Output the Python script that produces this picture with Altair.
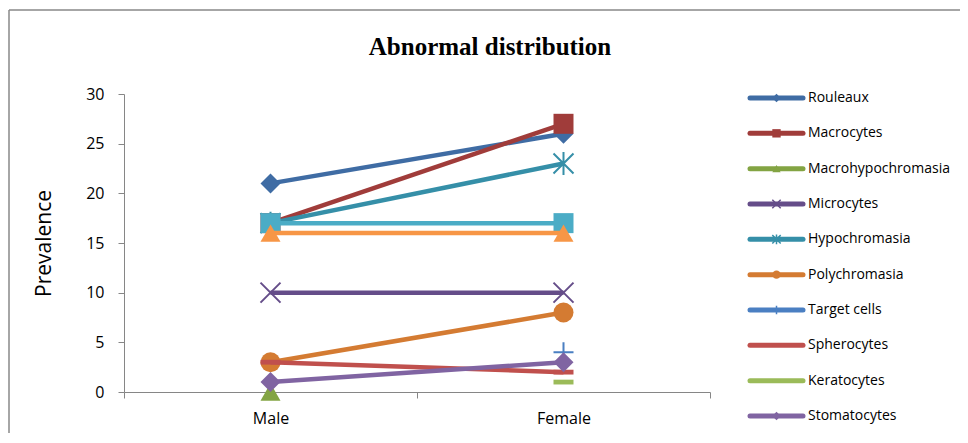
import altair as alt
import pandas as pd

# ---------------- data ----------------
categories = ["Male", "Female"]
series_names = ["Rouleaux", "Macrocytes", "Macrohypochromasia", "Microcytes",
                "Hypochromasia", "Polychromasia", "Target cells", "Spherocytes",
                "Keratocytes", "Stomatocytes", "Series 11", "Series 12"]
rouleaux = [21, 26]
macrocytes = [17, 27]
macrohypochromasia = [0, None]
microcytes = [10, 10]
hypochromasia = [17, 23]
polychromasia = [3, 8]
target_cells = [None, 4]
spherocytes = [3, 2]
keratocytes = [None, 1]
stomatocytes = [1, 3]
series_11 = [17, 17]
series_12 = [16, 16]
legend_names = series_names[:10]
y_ticks = [0, 5, 10, 15, 20, 25, 30]
title_text = "Abnormal distribution"
y_title = "Prevalence"

all_values = [rouleaux, macrocytes, macrohypochromasia, microcytes, hypochromasia,
              polychromasia, target_cells, spherocytes, keratocytes, stomatocytes,
              series_11, series_12]

# ---------------- styles ----------------
colors = ["#3F6CA4", "#A03C3A", "#83A443", "#654D89", "#358FA8", "#D47B32",
          "#4A7FC2", "#C0504D", "#9BBB59", "#8064A2", "#4BACC6", "#F79646"]
X_PATH = "M-1,-1L1,1M-1,1L1,-1"
AST_PATH = "M-1,-1L1,1M-1,1L1,-1M0,-1.15L0,1.15"
PLUS_PATH = "M-1,0L1,0M0,-1L0,1"
DASH_PATH = "M-1,-0.24L1,-0.24L1,0.24L-1,0.24Z"
shapes = ["diamond", "square", "triangle-up", X_PATH, AST_PATH, "circle",
          PLUS_PATH, DASH_PATH, DASH_PATH, "diamond", "square", "triangle-up"]
filled = [True, True, True, False, False, True, False, True, True, True, True, True]

rows = []
for i, (name, vals) in enumerate(zip(series_names, all_values)):
    for j, (cat, v) in enumerate(zip(categories, vals)):
        if v is not None:
            rows.append({"series": name, "category": cat, "pos": j + 0.5, "value": v})
df = pd.DataFrame(rows)

x_scale = alt.Scale(domain=[0, len(categories)], nice=False, zero=False)
y_scale = alt.Scale(domain=[0, 30], nice=False)

label_expr = " : ".join(
    [f"datum.value == {j + 0.5} ? '{c}'" for j, c in enumerate(categories)]) + " : ''"
x_axis = alt.Axis(
    values=[k * 0.5 for k in range(2 * len(categories) + 1)],
    labelExpr=label_expr,
    tickOpacity={"condition": {"test": "datum.value % 1 == 0", "value": 1}, "value": 0},
    tickSize=6, labelPadding=12, labelFontSize=16, labelFont="Open Sans",
    labelColor="#000000", grid=False, title=None, labelFlush=False,
    domainColor="#868686", tickColor="#868686", labelOverlap=False)
y_axis = alt.Axis(
    values=y_ticks, tickSize=6, labelPadding=14, labelFontSize=16,
    labelFont="Open Sans", labelColor="#000000", grid=False,
    title=y_title, titleFont="Open Sans", titleFontSize=21, titleFontWeight="normal",
    titleColor="#000000", titleAngle=270, titleX=-80, titleY=149,
    titleBaseline="middle", titleAlign="center",
    domainColor="#868686", tickColor="#868686")

one = pd.DataFrame({"k": [0]})
frame_left = alt.Chart(one).mark_rule(color="#888888", strokeWidth=1.5).encode(
    x=alt.value(-115), y=alt.value(-84), y2=alt.value(360))
frame_top = alt.Chart(one).mark_rule(color="#888888", strokeWidth=1.5).encode(
    x=alt.value(-115), x2=alt.value(850), y=alt.value(-84))
title = alt.Chart(one).mark_text(
    text=title_text, font="Liberation Serif", fontSize=25, fontWeight="bold",
    align="center", baseline="middle", color="#000000").encode(
    x=alt.value(366), y=alt.value(-47))

main_layers = [frame_left, frame_top, title]
for i, name in enumerate(series_names):
    sub = df[df["series"] == name]
    enc = dict(x=alt.X("pos:Q", scale=x_scale, axis=x_axis),
               y=alt.Y("value:Q", scale=y_scale, axis=y_axis))
    main_layers.append(
        alt.Chart(sub).mark_line(color=colors[i], strokeWidth=4.5).encode(**enc))
    if filled[i]:
        pt = alt.Chart(sub).mark_point(shape=shapes[i], size=400, filled=True,
                                       opacity=1, color=colors[i])
    else:
        pt = alt.Chart(sub).mark_point(shape=shapes[i], size=400, filled=False,
                                       opacity=1, color=colors[i], strokeWidth=2)
    main_layers.append(pt.encode(**enc))

main = alt.layer(*main_layers)

# ---------------- legend ----------------
leg_df = pd.DataFrame({"name": legend_names, "x0": 0.0, "x1": 1.0, "xm": 0.5})
lx = alt.Scale(domain=[0, 1], range=[626, 679], nice=False, zero=False)
ly = alt.Scale(type="point", domain=legend_names, range=[4, 322], padding=0)
leg_rule = alt.Chart(leg_df).mark_rule(strokeWidth=5, strokeCap="round").encode(
    x=alt.X("x0:Q", scale=lx, axis=None), x2="x1:Q",
    y=alt.Y("name:N", scale=ly, axis=None),
    color=alt.Color("name:N", scale=alt.Scale(domain=legend_names, range=colors[:10]),
                    legend=None))
leg_text = alt.Chart(leg_df).mark_text(
    align="left", baseline="middle", dx=5, fontSize=14, font="Open Sans",
    color="#000000").encode(
    x=alt.X("x1:Q", scale=lx, axis=None),
    y=alt.Y("name:N", scale=ly, axis=None), text="name:N")
legend_layers = [leg_rule]
for i, name in enumerate(legend_names):
    sub = leg_df[leg_df["name"] == name]
    if filled[i]:
        pt = alt.Chart(sub).mark_point(shape=shapes[i], size=70, filled=True,
                                       opacity=1, color=colors[i])
    else:
        pt = alt.Chart(sub).mark_point(shape=shapes[i], size=70, filled=False,
                                       opacity=1, color=colors[i], strokeWidth=1.5)
    legend_layers.append(pt.encode(x=alt.X("xm:Q", scale=lx, axis=None),
                                   y=alt.Y("name:N", scale=ly, axis=None)))
legend_layers.append(leg_text)
legend = alt.layer(*legend_layers)

chart = alt.layer(main, legend).resolve_scale(
    x="independent", y="independent").properties(
    width=586, height=298,
    autosize=alt.AutoSizeParams(type="none"),
    padding={"left": 116, "top": 86, "right": 250, "bottom": 41},
    background="#ffffff").configure_view(stroke=None)

chart.save("out.html", embed_options={"renderer": "svg", "actions": False})
